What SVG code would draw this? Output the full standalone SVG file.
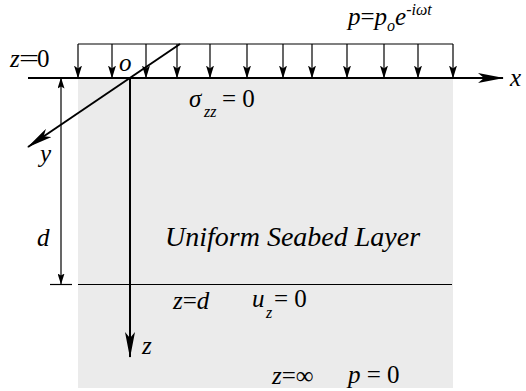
<svg xmlns="http://www.w3.org/2000/svg" width="526" height="391" viewBox="0 0 526 391">
<style>
.i{font-style:italic}
.s{font-size:16px}
.thick{stroke:#000;stroke-width:2;fill:none}
.thin{stroke:#000;stroke-width:1.2;fill:none}
</style>
<defs>
<marker id="big" viewBox="0 0 26 10" refX="25" refY="5" markerWidth="26" markerHeight="10" markerUnits="userSpaceOnUse" orient="auto">
<path d="M0,0 L26,5 L0,10 L6,5 Z" fill="#000"/>
</marker>
<marker id="sm" viewBox="0 0 13 8" refX="12.5" refY="4" markerWidth="13" markerHeight="8" markerUnits="userSpaceOnUse" orient="auto">
<path d="M0,0 L13,4 L0,8 L3,4 Z" fill="#000"/>
</marker>
<marker id="dim" viewBox="0 0 11 7" refX="10.5" refY="3.5" markerWidth="11" markerHeight="7" markerUnits="userSpaceOnUse" orient="auto">
<path d="M0,0 L11,3.5 L0,7 L2,3.5 Z" fill="#000"/>
</marker>
</defs>
<g id="seabed" font-family="Liberation Serif, Times New Roman, serif" font-size="25">
<rect x="78" y="78" width="375" height="310" fill="#ebebeb"/>
<text class="i" x="165" y="246" font-size="28">Uniform Seabed Layer</text>
</g>
<g id="load">
<line class="thin" x1="78" y1="44" x2="453" y2="44"/>
</g>
<g id="connectors">
<g class="thin" marker-end="url(#sm)">
<line x1="78" y1="44" x2="78" y2="78"/>
<line x1="112" y1="44" x2="112" y2="78"/>
<line x1="146" y1="44" x2="146" y2="78"/>
<line x1="177" y1="44" x2="177" y2="78"/>
<line x1="210" y1="44" x2="210" y2="78"/>
<line x1="247" y1="44" x2="247" y2="78"/>
<line x1="283" y1="44" x2="283" y2="78"/>
<line x1="312" y1="44" x2="312" y2="78"/>
<line x1="347" y1="44" x2="347" y2="78"/>
<line x1="384" y1="44" x2="384" y2="78"/>
<line x1="418" y1="44" x2="418" y2="78"/>
<line x1="453" y1="44" x2="453" y2="78"/>
</g>
<line class="thick" x1="28" y1="78" x2="503" y2="78" marker-end="url(#big)"/>
<line class="thick" x1="180" y1="44" x2="28" y2="147" marker-end="url(#big)"/>
<line class="thick" x1="130" y1="78" x2="130" y2="357" marker-end="url(#big)"/>
<line class="thin" x1="78" y1="284.5" x2="452" y2="284.5"/>
<line class="thin" x1="50" y1="284.5" x2="72" y2="284.5"/>
<line class="thin" x1="61" y1="180" x2="61" y2="78" marker-end="url(#dim)"/>
<line class="thin" x1="61" y1="180" x2="61" y2="284" marker-end="url(#dim)"/>
</g>
<g id="labels" font-family="Liberation Serif, Times New Roman, serif" font-size="25">
<text x="10" y="67"><tspan class="i">z</tspan><tspan x="19" textLength="20" lengthAdjust="spacingAndGlyphs">=</tspan><tspan x="37">0</tspan></text>
<text class="i" x="119" y="71">o</text>
<text x="189" y="107"><tspan class="i">σ</tspan><tspan class="i s" x="204" y="117">zz</tspan><tspan x="222" y="107">= 0</tspan></text>
<text x="348" y="25"><tspan class="i">p</tspan>=<tspan class="i">p</tspan><tspan class="i s" dy="6">o</tspan><tspan class="i" dy="-6">e</tspan><tspan class="i s" dy="-10">-iωt</tspan></text>
<text class="i" x="510" y="86">x</text>
<text class="i" x="40" y="162">y</text>
<text class="i" x="37" y="246">d</text>
<text x="173" y="309"><tspan class="i">z</tspan>=<tspan class="i">d</tspan></text>
<text x="252" y="307"><tspan class="i">u</tspan><tspan class="i s" x="266" y="318">z</tspan><tspan x="274" y="307">= 0</tspan></text>
<text class="i" x="142" y="354">z</text>
<text x="272" y="384"><tspan class="i">z</tspan>=∞</text>
<text x="348" y="383"><tspan class="i">p</tspan> = 0</text>
</g>
</svg>
